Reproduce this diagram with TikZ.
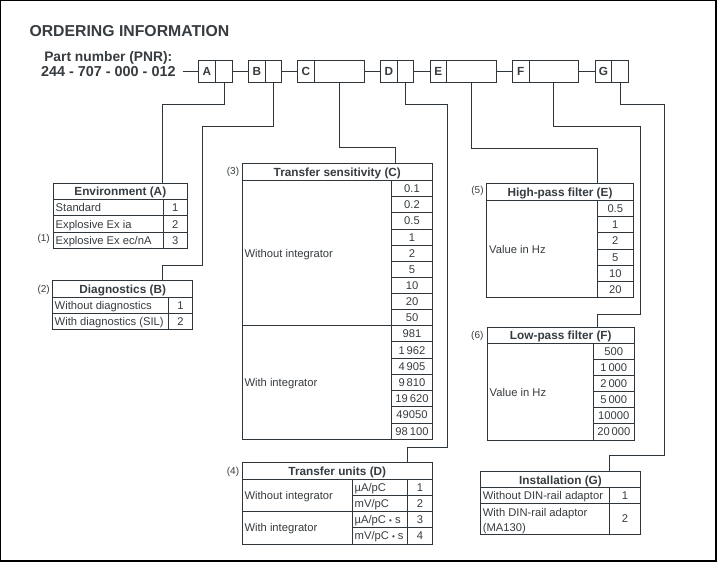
\documentclass[tikz,border=0pt]{standalone}
\usepackage{fontspec}
\setmainfont{Liberation Sans}
\definecolor{ink}{RGB}{47,55,60}
\definecolor{txt}{RGB}{55,60,64}
\begin{document}
\begin{tikzpicture}[x=1pt,y=-1pt,
  ln/.style={draw=ink,line width=0.95pt},
  bx/.style={draw=ink,line width=0.95pt,minimum height=22pt,inner sep=0pt,text=txt,
    font=\bfseries\fontsize{11.8}{12}\selectfont,text height=8.4pt,text depth=0pt},
  hd/.style={text=txt,inner sep=0pt,font=\bfseries\fontsize{11.8}{12}\selectfont,text height=8.4pt,text depth=0pt},
  tx/.style={text=txt,inner sep=0pt,anchor=west,font=\fontsize{11.2}{12}\selectfont,text height=8pt,text depth=0pt},
  nm/.style={text=txt,inner sep=0pt,font=\fontsize{11.2}{12}\selectfont,text height=8pt,text depth=0pt},
  tg/.style={text=txt,inner sep=0pt,font=\fontsize{10}{11}\selectfont,text height=7.2pt,text depth=0pt}]
\useasboundingbox (0,0) rectangle (718,562);
\fill[white] (0,0) rectangle (718,562);
\draw[black,line width=1.1pt] (0.8,0.8) rectangle (716,561);

% title
\node[text=txt,inner sep=0pt,anchor=west,font=\bfseries\fontsize{15.8}{16}\selectfont,text height=11.3pt,text depth=0pt] (title) at (29.3,30.7) {ORDERING INFORMATION};
\node[text=txt,inner sep=0pt,font=\bfseries\fontsize{13.8}{14}\selectfont,text height=9.9pt,text depth=0pt] (pnr) at (108.3,56.7) {Part number (PNR):};
\node[text=txt,inner sep=0pt,font=\bfseries\fontsize{14.4}{14}\selectfont,text height=10.2pt,text depth=0pt] (pnum) at (108.3,71.5) {244 - 707 - 000 - 012};

% part number boxes
\node[bx,minimum width=17.4pt] (Al) at (207,71) {A};
\node[bx,minimum width=16.6pt] (Av) at (224,71) {};
\node[bx,minimum width=17pt] (Bl) at (256.8,71) {B};
\node[bx,minimum width=16.4pt] (Bv) at (273.5,71) {};
\node[bx,minimum width=17.4pt] (Cl) at (306,71) {C};
\node[bx,minimum width=49.3pt] (Cv) at (339.35,71) {};
\node[bx,minimum width=17pt] (Dl) at (388.8,71) {D};
\node[bx,minimum width=16pt] (Dv) at (405.3,71) {};
\node[bx,minimum width=16.7pt] (El) at (438.35,71) {E};
\node[bx,minimum width=50pt] (Ev) at (471.7,71) {};
\node[bx,minimum width=17pt] (Fl) at (520.8,71) {F};
\node[bx,minimum width=49pt] (Fv) at (553.8,71) {};
\node[bx,minimum width=16.4pt] (Gl) at (603.5,71) {G};
\node[bx,minimum width=17pt] (Gv) at (620.2,71) {};

\coordinate (pn) at (183,71);
\draw[ln] (pn) -- (Al.west);
\draw[ln] (Av.east) -- (Bl.west);
\draw[ln] (Bv.east) -- (Cl.west);
\draw[ln] (Cv.east) -- (Dl.west);
\draw[ln] (Dv.east) -- (El.west);
\draw[ln] (Ev.east) -- (Fl.west);
\draw[ln] (Fv.east) -- (Gl.west);

% ---------- Environment (A)
\draw[ln] (53.3,183.3) rectangle (187.3,248.3);
\draw[ln] (53.3,199.3) -- (187.3,199.3) (53.3,215.7) -- (187.3,215.7) (53.3,232.3) -- (187.3,232.3) (163.3,199.3) -- (163.3,248.3);
\node[hd] (envh) at (120.3,191.5) {Environment (A)};
\node[tx] (env1) at (55.5,207.5) {Standard};
\node[nm] (env1v) at (175.3,207.5) {1};
\node[tx] (env2) at (55.5,224) {Explosive Ex ia};
\node[nm] (env2v) at (175.3,224) {2};
\node[tx] (env3) at (55.5,240.3) {Explosive Ex ec/nA};
\node[nm] (env3v) at (175.3,240.3) {3};
\node[tg] (tag1) at (43.7,237.5) {(1)};
\coordinate (envin) at (162.3,183.3);

% ---------- Diagnostics (B)
\draw[ln] (52.7,280.3) rectangle (192.7,329.7);
\draw[ln] (52.7,297) -- (192.7,297) (52.7,313.7) -- (192.7,313.7) (168.3,297) -- (168.3,329.7);
\node[hd] (diagh) at (122.7,288.8) {Diagnostics (B)};
\node[tx] (diag1) at (54.5,305.35) {Without diagnostics};
\node[nm] (diag1v) at (180.5,305.35) {1};
\node[tx] (diag2) at (54.5,321.7) {With diagnostics (SIL)};
\node[nm] (diag2v) at (180.5,321.7) {2};
\node[tg] (tag2) at (43.7,288.7) {(2)};
\coordinate (diagin) at (162.3,280.3);

% ---------- Transfer sensitivity (C)
\draw[ln] (242.3,163.3) rectangle (432.3,439.3);
\draw[ln] (242.3,180.7) -- (432.3,180.7) (242.3,325.7) -- (432.3,325.7) (391.7,180.7) -- (391.7,439.3);
\node[hd] (tsh) at (337.3,172.2) {Transfer sensitivity (C)};
\node[tg] (tag3) at (233,171.2) {(3)};
\foreach \v [count=\i] in {0.1,0.2,0.5,1,2,5,10,20,50} {
  \node[nm] at (412,{180.7+16.11*\i-8.05}) {\v};
  \draw[ln] (391.7,{180.7+16.11*\i}) -- (432.3,{180.7+16.11*\i});
}
\foreach \v [count=\i] in {981,1\,962,4\,905,9\,810,19\,620,49050,98\,100} {
  \node[nm] at (412,{325.7+16.23*\i-8.1}) {\v};
  \draw[ln] (391.7,{325.7+16.23*\i}) -- (432.3,{325.7+16.23*\i});
}
\node[tx] (tswo) at (244.3,253.2) {Without integrator};
\node[tx] (tswi) at (244.3,382.5) {With integrator};
\coordinate (tsin) at (395.7,163.3);

% ---------- Transfer units (D)
\draw[ln] (242.3,462.3) rectangle (432.3,544);
\draw[ln] (242.3,479.3) -- (432.3,479.3) (242.3,511.3) -- (432.3,511.3)
  (352.3,495.3) -- (432.3,495.3) (352.3,527.3) -- (432.3,527.3)
  (352.3,479.3) -- (352.3,544) (407.7,479.3) -- (407.7,544);
\node[hd] (tuh) at (337.3,471) {Transfer units (D)};
\node[tg] (tag4) at (233,470.8) {(4)};
\node[tx] (tuwo) at (244.3,495.3) {Without integrator};
\node[tx] (tuwi) at (244.3,527.65) {With integrator};
\node[tx] (tu1) at (354.5,487.3) {µA/pC};
\node[tx] (tu2) at (354.5,503.3) {mV/pC};
\node[tx] (tu3) at (354.5,519.3) {µA/pC {\fontsize{8}{8}\selectfont•} s};
\node[tx] (tu4) at (354.5,535.65) {mV/pC {\fontsize{8}{8}\selectfont•} s};
\node[nm] (tu1v) at (420,487.3) {1};
\node[nm] (tu2v) at (420,503.3) {2};
\node[nm] (tu3v) at (420,519.3) {3};
\node[nm] (tu4v) at (420,535.65) {4};
\coordinate (tuin) at (407.3,462.3);

% ---------- High-pass filter (E)
\draw[ln] (486.7,183.3) rectangle (633.3,297.3);
\draw[ln] (486.7,200.7) -- (633.3,200.7) (597.3,200.7) -- (597.3,297.3);
\node[hd] (hph) at (560,192.2) {High-pass filter (E)};
\node[tg] (tag5) at (477.5,190) {(5)};
\foreach \v [count=\i] in {0.5,1,2,5,10,20} {
  \node[nm] at (615.3,{200.7+16.1*\i-8.05}) {\v};
  \draw[ln] (597.3,{200.7+16.1*\i}) -- (633.3,{200.7+16.1*\i});
}
\node[tx] (hpv) at (489,249) {Value in Hz};
\coordinate (hpin) at (597.6,183.3);

% ---------- Low-pass filter (F)
\draw[ln] (487.3,327.3) rectangle (634.3,440);
\draw[ln] (487.3,343.3) -- (634.3,343.3) (593.3,343.3) -- (593.3,440);
\node[hd] (lph) at (560.8,335.5) {Low-pass filter (F)};
\node[tg] (tag6) at (477.3,335) {(6)};
\foreach \v [count=\i] in {500,1\,000,2\,000,5\,000,10000,20\,000} {
  \node[nm] at (613.8,{343.3+16.12*\i-8.06}) {\v};
  \draw[ln] (593.3,{343.3+16.12*\i}) -- (634.3,{343.3+16.12*\i});
}
\node[tx] (lpv) at (489.5,392) {Value in Hz};
\coordinate (lpin) at (597.7,327.3);

% ---------- Installation (G)
\draw[ln] (480.7,471.7) rectangle (640.7,534);
\draw[ln] (480.7,487.7) -- (640.7,487.7) (480.7,503.7) -- (640.7,503.7) (609.3,487.7) -- (609.3,534);
\node[hd] (insh) at (560.5,479.9) {Installation (G)};
\node[tx] (ins1) at (482.7,495.7) {Without DIN-rail adaptor};
\node[nm] (ins1v) at (625,495.7) {1};
\node[tx] (ins2a) at (482.7,512.6) {With DIN-rail adaptor};
\node[tx] (ins2b) at (482.7,527.6) {(MA130)};
\node[nm] (ins2v) at (625,518.9) {2};
\coordinate (insin) at (609.3,471.7);

% ---------- connectors
\draw[ln] (Av.south) |- (162.3,104) -- (envin);
\draw[ln] (Bv.south) |- (202.5,126) |- (162.3,265) -- (diagin);
\draw[ln] (Cv.south) |- (395.7,147.3) -- (tsin);
\draw[ln] (Dv.south) |- (447,104) |- (407.3,447.3) -- (tuin);
\draw[ln] (Ev.south) |- (597.6,148) -- (hpin);
\draw[ln] (Fv.south) |- (640.8,126) |- (597.7,314.5) -- (lpin);
\draw[ln] (Gv.south) |- (664.3,104) |- (609.3,455) -- (insin);
\end{tikzpicture}
\end{document}
